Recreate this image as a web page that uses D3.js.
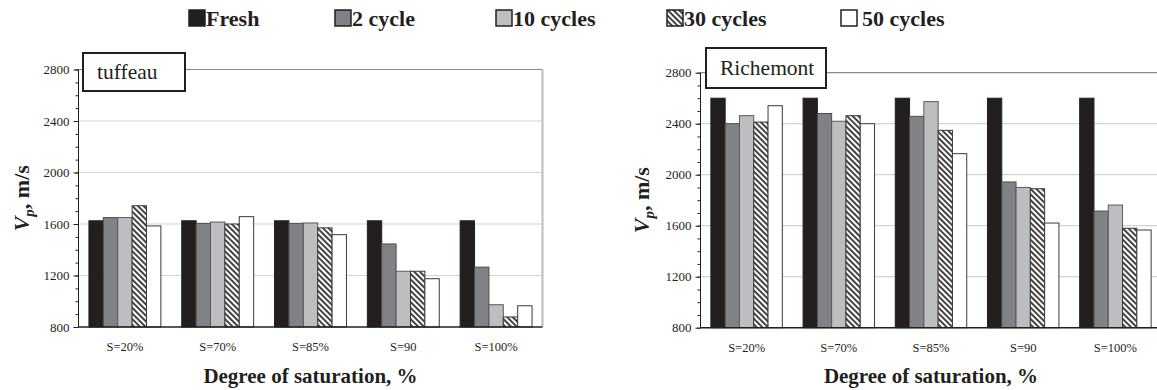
<!DOCTYPE html>
<html>
<head>
<meta charset="utf-8">
<script src="https://cdn.jsdelivr.net/npm/d3@7"></script>
<style>
  body { margin: 0; background: #fff; }
  svg { display: block; }
</style>
</head>
<body>
<svg id="chart" width="1157" height="390"></svg>
<script>
// categories and series
var categories = ["S=20%", "S=70%", "S=85%", "S=90", "S=100%"];
var seriesNames = ["Fresh", "2 cycle", "10 cycles", "30 cycles", "50 cycles"];
var yTicks = [800, 1200, 1600, 2000, 2400, 2800];

// tuffeau, Vp in m/s
var tuffeauFresh = [1625, 1625, 1625, 1625, 1625];
var tuffeau2 = [1650, 1605, 1605, 1445, 1265];
var tuffeau10 = [1650, 1615, 1608, 1233, 973];
var tuffeau30 = [1742, 1600, 1570, 1233, 878];
var tuffeau50 = [1585, 1657, 1517, 1175, 965];

// Richemont, Vp in m/s
var richFresh = [2600, 2600, 2600, 2600, 2600];
var rich2 = [2400, 2480, 2458, 1943, 1715];
var rich10 = [2463, 2419, 2573, 1900, 1762];
var rich30 = [2413, 2463, 2348, 1890, 1580];
var rich50 = [2541, 2400, 2165, 1621, 1566];

var FONT = "'Liberation Serif', 'Times New Roman', serif";
var fills = ["#231f20", "#808285", "#bcbec0", "url(#hatch)", "#ffffff"];
var strokes = ["#231f20", "#4d4d4f", "#58595b", "#3a3a3a", "#3a3a3a"];

var svg = d3.select("#chart").style("font-family", FONT);
svg.append("rect").attr("width", 1157).attr("height", 390).attr("fill", "#fff");

var defs = svg.append("defs");
var pat = defs.append("pattern")
    .attr("id", "hatch")
    .attr("patternUnits", "userSpaceOnUse")
    .attr("width", 4).attr("height", 4)
    .attr("patternTransform", "rotate(-45)");
pat.append("rect").attr("width", 4).attr("height", 4).attr("fill", "#fff");
pat.append("line").attr("x1", 1).attr("y1", 0).attr("x2", 1).attr("y2", 4)
    .attr("stroke", "#231f20").attr("stroke-width", 1.7);

// legend
var legendX = [189, 335, 496, 667, 841];
var legend = svg.append("g");
seriesNames.forEach(function(name, i) {
    legend.append("rect")
        .attr("x", legendX[i]).attr("y", 10)
        .attr("width", 16).attr("height", 16)
        .attr("fill", fills[i])
        .attr("stroke", "#231f20").attr("stroke-width", 1.5);
    legend.append("text")
        .attr("x", legendX[i] + (i == 4 ? 21 : 17)).attr("y", 26)
        .style("font-family", FONT)
        .attr("font-size", 22).attr("font-weight", "bold")
        .attr("fill", "#231f20")
        .text(name);
});

function drawChart(opt) {
    var x0 = d3.scaleBand()
        .domain(categories)
        .range([opt.left, opt.right])
        .paddingInner(0.225)
        .paddingOuter(0.1125);
    var x1 = d3.scaleBand()
        .domain(d3.range(seriesNames.length))
        .range([0, x0.bandwidth()]);
    var y = d3.scaleLinear().domain([800, 2800]).range([opt.bottom, opt.top]);

    var g = svg.append("g");

    // grid lines
    g.selectAll("line.grid")
        .data(yTicks.slice(1, -1))
        .enter().append("line")
        .attr("x1", opt.left).attr("x2", opt.right)
        .attr("y1", function(d) { return y(d); })
        .attr("y2", function(d) { return y(d); })
        .attr("stroke", "#d3d3d3").attr("stroke-width", 1.2);
    g.append("line")
        .attr("x1", opt.left).attr("x2", opt.right)
        .attr("y1", y(2800)).attr("y2", y(2800))
        .attr("stroke", "#8a8a8a").attr("stroke-width", 1.2);
    g.append("line")
        .attr("x1", opt.right).attr("x2", opt.right)
        .attr("y1", y(2800)).attr("y2", y(800))
        .attr("stroke", "#bdbdbd").attr("stroke-width", 2);

    // bars
    var groups = g.selectAll("g.cat")
        .data(categories)
        .enter().append("g")
        .attr("transform", function(d) { return "translate(" + x0(d) + ",0)"; });
    groups.selectAll("rect")
        .data(function(d, ci) {
            return opt.data.map(function(arr, si) { return { s: si, v: arr[ci] }; });
        })
        .enter().append("rect")
        .attr("x", function(d) { return x1(d.s); })
        .attr("width", x1.bandwidth())
        .attr("y", function(d) { return y(d.v); })
        .attr("height", function(d) { return y(800) - y(d.v); })
        .attr("fill", function(d) { return fills[d.s]; })
        .attr("stroke", function(d) { return strokes[d.s]; })
        .attr("stroke-width", 1);

    // y axis with minor ticks
    var minor = d3.axisLeft(y).tickValues(d3.range(800, 2801, 100))
        .tickSize(3).tickFormat("");
    g.append("g").attr("transform", "translate(" + opt.left + ",0)")
        .call(minor)
        .call(function(s) { s.select(".domain").remove(); })
        .selectAll("line").attr("stroke", "#231f20");
    var yAxis = d3.axisLeft(y).tickValues(yTicks).tickSize(5).tickPadding(4)
        .tickFormat(d3.format("d"));
    var ya = g.append("g").attr("transform", "translate(" + opt.left + ",0)").call(yAxis);
    ya.select(".domain").attr("stroke", "#231f20").attr("d",
        "M0," + y(800) + "V" + y(2800));
    ya.selectAll("line").attr("stroke", "#231f20");
    ya.selectAll("text").style("font-family", FONT)
        .attr("font-size", 13).attr("fill", "#231f20");

    // x axis
    var xAxis = d3.axisBottom(x0).tickSize(0).tickPadding(15);
    var xa = g.append("g").attr("transform", "translate(0," + y(800) + ")").call(xAxis);
    xa.select(".domain").attr("stroke", "#231f20").attr("stroke-width", 1.6)
        .attr("d", "M" + opt.left + ",0H" + opt.right);
    xa.selectAll("text").style("font-family", FONT)
        .attr("font-size", 12.5).attr("fill", "#231f20");

    // axis titles
    g.append("text")
        .attr("x", (opt.left + opt.axisRight) / 2).attr("y", 383)
        .attr("text-anchor", "middle")
        .style("font-family", FONT)
        .attr("font-size", 21).attr("font-weight", "bold").attr("fill", "#231f20")
        .text("Degree of saturation, %");
    var yt = g.append("text")
        .attr("transform", "translate(" + opt.yTitleX + "," + (opt.top + opt.bottom) / 2 + ") rotate(-90)")
        .attr("text-anchor", "middle")
        .style("font-family", FONT)
        .attr("font-size", 22).attr("font-weight", "bold").attr("fill", "#231f20");
    yt.append("tspan").attr("font-style", "italic").text("V");
    yt.append("tspan").attr("font-style", "italic").attr("font-size", 15).attr("dy", 5).text("p");
    yt.append("tspan").attr("dy", -5).text(", m/s");

    // name box
    g.append("rect")
        .attr("x", opt.box[0]).attr("y", opt.box[1])
        .attr("width", opt.box[2]).attr("height", opt.box[3])
        .attr("fill", "#fff").attr("stroke", "#231f20").attr("stroke-width", 2);
    g.append("text")
        .attr("x", opt.box[0] + 14).attr("y", opt.box[1] + opt.box[3] / 2 + 7)
        .style("font-family", FONT)
        .attr("font-size", 21.5).attr("fill", "#231f20")
        .text(opt.name);
}

drawChart({
    name: "tuffeau",
    left: 78.5, right: 542.5, axisRight: 542.5, top: 69.5, bottom: 327,
    yTitleX: 29,
    box: [83, 53, 102, 38],
    data: [tuffeauFresh, tuffeau2, tuffeau10, tuffeau30, tuffeau50]
});
drawChart({
    name: "Richemont",
    left: 700.5, right: 1161.5, axisRight: 1161.5, top: 72.7, bottom: 327.7,
    yTitleX: 649,
    box: [706, 48, 120, 40],
    data: [richFresh, rich2, rich10, rich30, rich50]
});
</script>
</body>
</html>
